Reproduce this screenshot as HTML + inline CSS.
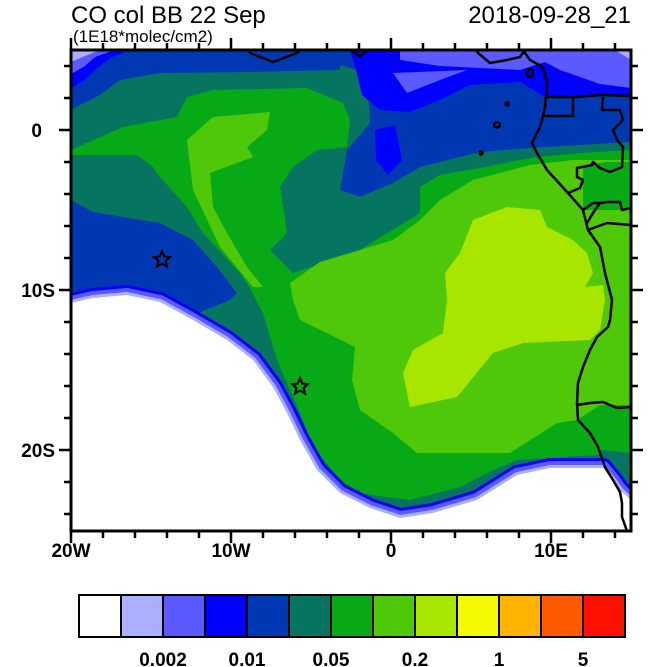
<!DOCTYPE html>
<html><head><meta charset="utf-8"><style>
html,body{margin:0;padding:0;background:#fff;}
svg{display:block;}
text{font-family:"Liberation Sans",sans-serif;font-weight:bold;}
</style></head><body>
<svg width="650" height="667" viewBox="0 0 650 667" xmlns="http://www.w3.org/2000/svg">
<defs><clipPath id="c"><rect x="71" y="50" width="560" height="481"/></clipPath></defs>
<g clip-path="url(#c)">
<rect x="71" y="50" width="560" height="481" fill="#067560"/>
<polygon fill="#0038b4" points="71,50 340,50 340,70 250,72 160,73 120,80 100,95 80,105 71,110"/>
<polygon fill="#0000ff" points="71,50 130,50 110,58 95,70 85,80 71,88"/>
<polygon fill="#5a5aff" points="71,50 115,50 95,57 85,66 71,74"/>
<polygon fill="#aab0ff" points="71,50 100,50 85,56 71,62"/>
<polygon fill="#0038b4" points="300,50 631,50 631,142 580,145 530,148 480,152 420,167 393,183 360,197 340,190 347,150 370,123 367,73 330,62"/>
<polygon fill="#0000ff" points="350,50 631,50 631,95 580,95 545,97 520,82 470,85 440,100 410,112 380,110 362,95 356,70"/>
<polygon fill="#0000ff" points="375,130 395,125 402,160 388,175 376,160"/>
<polygon fill="#5a5aff" points="400,50 631,50 631,88 600,84 560,70 545,62 520,70 480,68 440,66 400,60"/>
<polygon fill="#5a5aff" points="393,73 467,70 440,80 407,93"/>
<polygon fill="#aab0ff" points="615,50 631,50 631,60"/>
<polygon fill="#0038b4" points="71,200 93,212 160,223 193,240 217,267 237,293 230,300 193,315 71,315"/>
<polygon fill="#07aa16" points="71,150 123,127 177,117 187,97 213,90 307,88 343,103 350,120 347,147 317,150 293,167 280,187 287,233 270,250 293,273 360,250 420,213 420,187 440,175 480,168 530,158 580,153 631,150 631,453 603,450 597,455 517,460 493,470 460,487 410,500 350,492 313,447 300,413 277,360 263,313 247,283 240,273 203,233 187,207 160,177 153,167 137,155 71,155"/>
<polygon fill="#50c80a" points="187,140 213,117 270,112 267,130 247,147 253,157 210,173 213,207 227,233 247,267 263,287 253,287 220,247 193,190"/>
<polygon fill="#50c80a" points="290,283 320,262 393,240 420,220 440,200 473,180 530,165 573,160 631,160 631,405 600,405 577,420 557,423 510,453 417,453 393,433 360,410 352,380 355,347 327,333 300,320 293,300"/>
<polygon fill="#07aa16" points="583,167 605,162 629,162 629,210 583,210"/>
<polygon fill="#a8e600" points="460,253 473,220 507,207 540,210 547,227 573,240 587,253 593,273 585,287 603,285 605,300 600,330 590,340 523,343 493,353 457,397 410,407 403,373 413,350 443,333 447,300 445,273"/>
<g stroke-linejoin="round">
<path d="M71,303 L93,298 L127,295 L160,302 L193,320 L227,340 L253,360 L273,387 L287,413 L300,440 L317,470 L340,493 L370,508 L400,518 L433,513 L477,500 L517,475 L550,468 L603,468 L613,480 L620,490 L631,500 L631,531 L71,531 Z" fill="#fff" stroke="#0000ff" stroke-width="20"/>
<path d="M71,303 L93,298 L127,295 L160,302 L193,320 L227,340 L253,360 L273,387 L287,413 L300,440 L317,470 L340,493 L370,508 L400,518 L433,513 L477,500 L517,475 L550,468 L603,468 L613,480 L620,490 L631,500 L631,531 L71,531 Z" fill="#fff" stroke="#5a5aff" stroke-width="14"/>
<path d="M71,303 L93,298 L127,295 L160,302 L193,320 L227,340 L253,360 L273,387 L287,413 L300,440 L317,470 L340,493 L370,508 L400,518 L433,513 L477,500 L517,475 L550,468 L603,468 L613,480 L620,490 L631,500 L631,531 L71,531 Z" fill="#fff" stroke="#aab0ff" stroke-width="6"/>
<path d="M71,303 L93,298 L127,295 L160,302 L193,320 L227,340 L253,360 L273,387 L287,413 L300,440 L317,470 L340,493 L370,508 L400,518 L433,513 L477,500 L517,475 L550,468 L603,468 L613,480 L620,490 L631,500 L631,531 L71,531 Z" fill="#fff"/>
</g>
<g fill="none" stroke="#000" stroke-width="2.5" stroke-linejoin="round">
<polyline points="250,50 250,53 273,62 297,53 300,50"/>
<polyline points="350,50 360,56 368,50"/>
<polyline points="476,50 478,53 490,63 507,60 520,57 525,50"/>
<polyline points="524,50 525,53 530,60 543,67 547,83 545,107 542,120 540,127 532,143 537,153 547,170 568,193 583,210 588,230 600,247 605,273 612,300 610,320 608,327 597,337 590,350 583,367 578,383 577,403 578,420 590,433 598,447 605,467 613,480 620,492 622,503 622,517 627,531"/>
<polyline points="547,97 573,97 573,116 543,116"/>
<polyline points="573,97 603,95 631,96"/>
<polyline points="603,97 602,110 620,110 623,120 613,130 617,140 623,147 622,167 610,172 600,168 593,162 592,165 577,168 577,177 583,180 580,188 568,193"/>
<polyline points="583,210 593,203 600,203 607,202 620,202 622,210 631,208"/>
<polyline points="587,223 593,213 600,203"/>
<polyline points="588,230 607,223 631,225"/>
<polyline points="577,405 590,403 603,402 617,408 631,407"/>
<ellipse cx="530" cy="73" rx="3" ry="4"/>
<ellipse cx="497" cy="125" rx="3" ry="2.5"/>
<circle cx="481" cy="153" r="1.5"/>
<circle cx="507" cy="104" r="1.5"/>
</g>
<g fill="none" stroke="#000" stroke-width="2">
<polygon points="162,251 164.2,256.5 170,257 165.6,260.8 167,266.5 162,263.5 157,266.5 158.4,260.8 154,257 159.8,256.5"/>
<polygon points="300,378 302.2,383.5 308,384 303.6,387.8 305,393.5 300,390.5 295,393.5 296.4,387.8 292,384 297.8,383.5"/>
</g>
</g>
<rect x="71" y="50" width="560" height="481" fill="none" stroke="#000" stroke-width="3"/>
<g stroke="#000" stroke-width="2.5">
<path d="M71,531v12M231,531v12M391,531v12M551,531v12M103,531v7M135,531v7M167,531v7M199,531v7M263,531v7M295,531v7M327,531v7M359,531v7M423,531v7M455,531v7M487,531v7M519,531v7M583,531v7M615,531v7"/>
<path d="M71,50v-12M231,50v-12M391,50v-12M551,50v-12M103,50v-7M135,50v-7M167,50v-7M199,50v-7M263,50v-7M295,50v-7M327,50v-7M359,50v-7M423,50v-7M455,50v-7M487,50v-7M519,50v-7M583,50v-7M615,50v-7"/>
<path d="M71,130h-12M71,290h-12M71,450h-12M71,66h-7M71,98h-7M71,162h-7M71,194h-7M71,226h-7M71,258h-7M71,322h-7M71,354h-7M71,386h-7M71,418h-7M71,482h-7M71,514h-7"/>
<path d="M631,130h12M631,290h12M631,450h12M631,66h7M631,98h7M631,162h7M631,194h7M631,226h7M631,258h7M631,322h7M631,354h7M631,386h7M631,418h7M631,482h7M631,514h7"/>
</g>
<g font-size="19" text-anchor="middle">
<text x="71" y="557">20W</text><text x="231" y="557">10W</text><text x="391" y="557">0</text><text x="551" y="557">10E</text>
</g>
<g font-size="19" text-anchor="end">
<text x="42" y="137">0</text><text x="55" y="297">10S</text><text x="55" y="457">20S</text>
</g>
<text x="71" y="23" font-size="24" style="font-weight:normal">CO col BB 22 Sep</text>
<text x="631" y="23" font-size="24" text-anchor="end" style="font-weight:normal">2018-09-28_21</text>
<text x="73" y="42" font-size="17" style="font-weight:normal">(1E18*molec/cm2)</text>
<g stroke="#000" stroke-width="2">
<rect x="79" y="595" width="42" height="42" fill="#ffffff"/>
<rect x="121" y="595" width="42" height="42" fill="#aab0ff"/>
<rect x="163" y="595" width="42" height="42" fill="#5a5aff"/>
<rect x="205" y="595" width="42" height="42" fill="#0000ff"/>
<rect x="247" y="595" width="42" height="42" fill="#0038b4"/>
<rect x="289" y="595" width="42" height="42" fill="#067560"/>
<rect x="331" y="595" width="42" height="42" fill="#07aa16"/>
<rect x="373" y="595" width="42" height="42" fill="#50c80a"/>
<rect x="415" y="595" width="42" height="42" fill="#a8e600"/>
<rect x="457" y="595" width="42" height="42" fill="#f5fa00"/>
<rect x="499" y="595" width="42" height="42" fill="#ffb400"/>
<rect x="541" y="595" width="42" height="42" fill="#ff5a00"/>
<rect x="583" y="595" width="42" height="42" fill="#ff1000"/>
</g>
<g font-size="19" text-anchor="middle">
<text x="163" y="666">0.002</text><text x="247" y="666">0.01</text><text x="331" y="666">0.05</text><text x="415" y="666">0.2</text><text x="499" y="666">1</text><text x="583" y="666">5</text>
</g>
</svg>
</body></html>
